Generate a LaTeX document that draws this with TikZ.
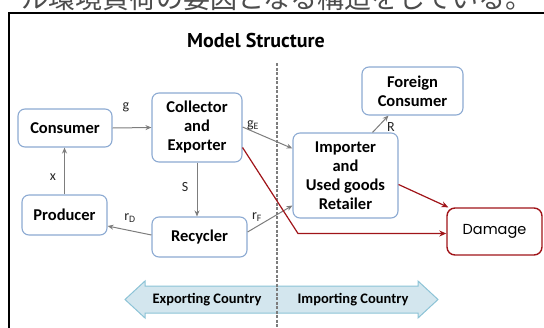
\documentclass[tikz,border=0pt]{standalone}
\usepackage{fontspec}
\setmainfont{Carlito}
\newfontfamily\jpfont{Noto Sans CJK JP}
\newfontfamily\titlefont{PT Sans}
\newfontfamily\dmgfont{Poppins}
\usetikzlibrary{arrows.meta}
\definecolor{boxblue}{RGB}{140,170,210}
\definecolor{dred}{RGB}{160,20,25}
\definecolor{arrfill}{RGB}{211,230,238}
\definecolor{arredge}{RGB}{140,195,214}
\definecolor{flowgray}{RGB}{125,125,125}
\tikzset{
  ebox/.style={draw=boxblue, line width=1.1pt, rounded corners=7pt, fill=white,
    align=center, inner sep=0pt, font=\fontsize{16.5}{19}\selectfont\bfseries},
  flow/.style={draw=flowgray, line width=1pt, -{Stealth[length=6pt,width=5pt]}},
  redflow/.style={draw=dred, line width=1.2pt, -{Stealth[length=7pt,width=6pt]}},
  lab/.style={font=\fontsize{14}{14}\selectfont, text=black!85, inner sep=1pt},
}
\begin{document}
\begin{tikzpicture}[x=1pt,y=-1pt]
\useasboundingbox (0,0) rectangle (544,327);
\begin{scope}
\clip (0,0) rectangle (544,327);
% clipped caption line at top
\node[anchor=base west, inner sep=0pt, font=\jpfont\fontsize{27}{27}\selectfont, text=black!70] (cap) at (21,8) {ル環境負荷の要因となる構造をしている。};
% frame
\draw[line width=2.2pt] (9,340) -- (9,13) -- (560,13);
\end{scope}

\node[font=\titlefont\fontsize{20}{20}\selectfont\bfseries] (title) at (256,40) {Model Structure};

% dashed divider
\coordinate (dtop) at (277,63);
\coordinate (dbot) at (277,327);

% country arrow
\path[fill=arrfill, draw=arredge, line width=1pt]
  (125,299.5) -- (145,281) -- (145,286) -- (418,286) -- (418,281) -- (438,299.5)
  -- (418,318) -- (418,313) -- (145,313) -- (145,318) -- cycle;
\node[font=\fontsize{14.5}{14.5}\selectfont\bfseries] (exp) at (207,299.5) {Exporting Country};
\node[font=\fontsize{14.5}{14.5}\selectfont\bfseries] (imp) at (353,299.5) {Importing Country};
\draw[flowgray, line width=1.2pt, dash pattern=on 3pt off 1.5pt] (dtop) -- (dbot);

% boxes
\node[ebox, minimum width=94pt, minimum height=38pt] (cons) at (65,128) {Consumer};
\node[ebox, minimum width=90pt, minimum height=69pt] (coll) at (197,127.5) {Collector\\and\\Exporter};
\node[ebox, minimum width=85pt, minimum height=40pt] (prod) at (64.5,215) {Producer};
\node[ebox, minimum width=95pt, minimum height=40pt] (rec) at (199.5,237) {Recycler};
\node[ebox, minimum width=101pt, minimum height=48pt] (fcons) at (412.5,91) {Foreign\\Consumer};
\node[ebox, minimum width=105pt, minimum height=85pt] (impr) at (345.5,175.5) {Importer\\and\\Used goods\\Retailer};
\node[draw=dred, line width=1.4pt, rounded corners=8pt, minimum width=95pt, minimum height=47pt,
  font=\dmgfont\fontsize{14.5}{14.5}\selectfont, inner sep=0pt] (dmg) at (494.5,231.5) {Damage};

% gray flows
\draw[flow] (cons.east) -- (coll.west);
\node[lab] (lg) at (126,107) {g};
\draw[flow] (prod.north) -- (prod.north |- cons.south);
\node[lab] (lx) at (53,177) {x};
\draw[flow] (coll.south) -- (coll.south |- rec.north);
\node[lab] (ls) at (185,187) {S};
\draw[flow] ([yshift=2pt]rec.west) -- ([yshift=-11pt]prod.east);
\node[lab] (lrd) at (130,218) {r\textsubscript{D}};
\draw[flow] ([yshift=5pt]rec.east) -- ([yshift=-30pt]impr.west);
\node[lab] (lrf) at (257,217) {r\textsubscript{F}};
\draw[flow] ([yshift=0.5pt]coll.east) -- ([yshift=27pt]impr.west);
\node[lab] (lge) at (253,125) {g\textsubscript{E}};
\draw[flow] ([xshift=27pt]impr.north) -- ([xshift=-24pt]fcons.south);
\node[lab] (lr) at (391,127) {R};

% red flows
\draw[redflow] ([yshift=-9pt]impr.east) -- ([xshift=2pt]dmg.north west);
\coordinate (bend) at (298,233.5);
\draw[redflow] ([yshift=-20pt]coll.east) -- (bend) -- (bend -| dmg.west);
\end{tikzpicture}
\end{document}
